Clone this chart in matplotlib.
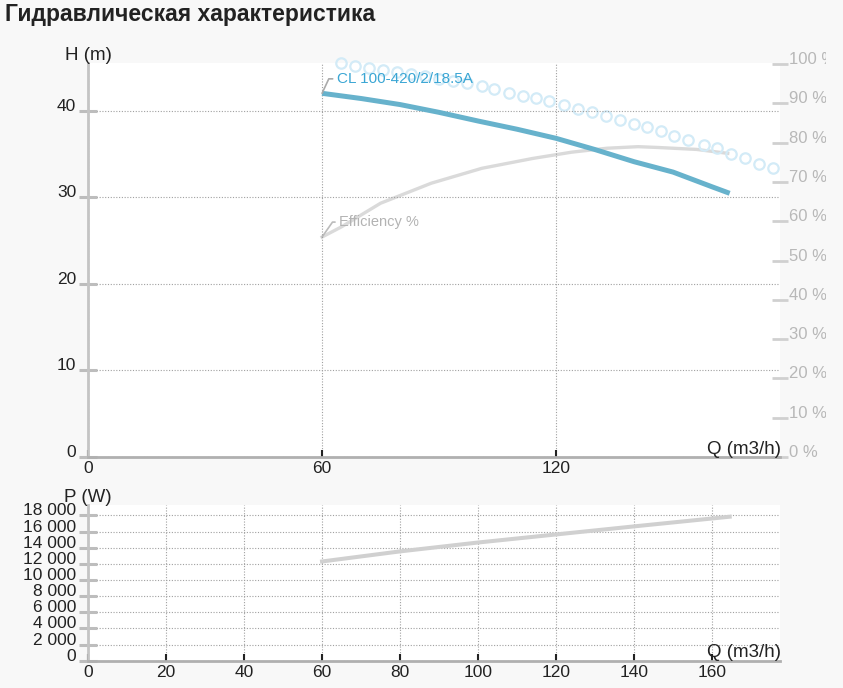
import matplotlib
matplotlib.use("Agg")
import matplotlib.pyplot as plt
from matplotlib.ticker import FuncFormatter
from matplotlib.transforms import Bbox

plt.rcParams["font.family"] = ["Liberation Sans", "DejaVu Sans"]

TITLE = "Гидравлическая характеристика"
PUMP = "CL 100-420/2/18.5A"

# head curve, H (m) vs Q (m3/h)
Q_H = [60, 70, 80, 90, 100, 110, 120, 130, 140, 150, 160, 164.5]
H = [42.0, 41.4, 40.7, 39.8, 38.8, 37.85, 36.8, 35.5, 34.1, 32.9, 31.2, 30.45]

# efficiency, %
Q_EFF = [60, 65, 75, 88, 101, 114, 124, 133, 141, 146, 156, 164]
EFF = [56.0, 58.6, 64.6, 69.7, 73.5, 76.0, 77.6, 78.6, 79.0, 78.8, 78.3, 77.3]

# open circle series (right axis, %)
Q_DOTS = [64.8, 68.5, 72.1, 75.7, 79.1, 82.7, 86.3, 90.0, 93.6, 97.2, 100.9,
          104.2, 107.8, 111.4, 114.9, 118.3, 121.9, 125.5, 129.2, 132.8, 136.3,
          139.9, 143.3, 146.8, 150.3, 153.9, 157.8, 161.3, 164.8, 168.4, 171.9, 175.5]
DOTS = [100.4, 99.6, 99.1, 98.5, 98.0, 97.5, 97.0, 96.3, 95.8, 95.3, 94.5,
        93.6, 92.7, 92.0, 91.3, 90.6, 89.6, 88.6, 87.7, 86.8, 85.8,
        84.8, 83.9, 83.0, 81.7, 80.7, 79.4, 78.6, 77.2, 76.0, 74.7, 73.5]

# power, W
Q_P = [60, 80, 100, 120, 140, 164.5]
P = [12300, 13550, 14650, 15650, 16650, 17850]

H_TICKS = [0, 10, 20, 30, 40]
EFF_TICKS = list(range(0, 101, 10))
Q_TICKS_TOP = [0, 60, 120]
Q_TICKS_BOTTOM = list(range(0, 161, 20))
P_TICKS = list(range(0, 18001, 2000))

BG = "#f8f8f8"
W, HGT = 843, 688


def style_axes(axis):
	for side in ("top", "right"):
		axis.spines[side].set_visible(False)
	axis.spines["left"].set_color("#c4c4c4")
	axis.spines["left"].set_linewidth(2)
	axis.spines["bottom"].set_color("#b0b0b0")
	axis.spines["bottom"].set_linewidth(2)
	axis.tick_params(axis="y", direction="inout", length=13, width=2.2,
		color="#bdbdbd", labelsize=12.5, pad=2, labelcolor="#222222")
	axis.tick_params(axis="x", direction="in", length=5, width=1.5,
		color="#222222", labelsize=12.5, pad=3, labelcolor="#222222")
	axis.grid(True, linestyle=(0, (1, 1.5)), color="#a0a0a0", linewidth=0.8)
	axis.set_axisbelow(True)


fig = plt.figure(figsize=(W / 100, HGT / 100), dpi=100, facecolor=BG)

ax = fig.add_axes([88 / W, 1 - 457 / HGT, 692 / W, 394 / HGT])
ax2 = ax.twinx()
ax.set_zorder(ax2.get_zorder() + 1)
ax.patch.set_visible(False)
ax2.patch.set_visible(True)
ax2.set_facecolor("white")

ax.set_xlim(0, 177.4)
ax.set_ylim(0, 45.5)
ax.set_xticks(Q_TICKS_TOP)
ax.set_yticks(H_TICKS)
style_axes(ax)

ax2.set_ylim(0, 100.3)
ax2.set_yticks(EFF_TICKS)
ax2.yaxis.set_major_formatter(FuncFormatter(lambda v, p: "%d %%" % v))
for s in ax2.spines.values():
	s.set_visible(False)
ax2.tick_params(axis="y", direction="inout", length=11, width=2,
	color="#d0d0d0", labelcolor="#b8b8b8", labelsize=12, pad=1)

ax.plot(Q_H, H, color="#67b2cc", linewidth=3.6, solid_capstyle="butt")
ax2.plot(Q_EFF, EFF, color="#dadada", linewidth=2.4)
ax2.plot(Q_DOTS, DOTS, "o", mfc="none", mec="#d3ebf7", ms=7.5, mew=1.6, clip_on=False)

ax.annotate(PUMP, xy=(Q_H[0], H[0]), xytext=(63.8, 43.67), color="#3aa6d4",
	fontsize=11, ha="left", va="center",
	arrowprops=dict(arrowstyle="-", color="#aaaaaa", lw=1.2, shrinkA=1, shrinkB=0,
		relpos=(0, 0.5), connectionstyle="angle,angleA=0,angleB=65,rad=0"))
ax2.annotate("Efficiency %", xy=(Q_EFF[0], EFF[0]), xytext=(64.4, 59.8), color="#b3b3b3",
	fontsize=10.5, ha="left", va="center",
	arrowprops=dict(arrowstyle="-", color="#bbbbbb", lw=1.2, shrinkA=1, shrinkB=0,
		relpos=(0, 0.5), connectionstyle="angle,angleA=0,angleB=55,rad=0"))

axp = fig.add_axes([88 / W, 1 - 660.7 / HGT, 692 / W, 155.7 / HGT])
axp.set_facecolor("white")
axp.set_xlim(0, 177.4)
axp.set_ylim(0, 19300)
axp.set_xticks(Q_TICKS_BOTTOM)
axp.set_yticks(P_TICKS)
axp.yaxis.set_major_formatter(FuncFormatter(lambda v, p: "{:,}".format(int(v)).replace(",", " ")))
style_axes(axp)
axp.plot(Q_P, P, color="#d0d0d0", linewidth=2.9)

for axis in (ax, ax2, axp):
	for t in axis.yaxis.get_major_ticks():
		t.label1.set_va("baseline")
		t.label2.set_va("baseline")

# right labels are cut off at the edge of the chart container
clip = Bbox([[0, 0], [826, HGT]])
for t in ax2.yaxis.get_major_ticks():
	t.label2.set_clip_box(clip)
	t.label2.set_clip_on(True)

fig.text(5 / W, 1 - 15 / HGT, TITLE, fontsize=16.5, fontweight="bold", color="#222222", va="center")
fig.text(65 / W, 1 - 55 / HGT, "H (m)", fontsize=13.5, color="#222222", va="center")
fig.text(781 / W, 1 - 449 / HGT, "Q (m3/h)", fontsize=13.5, color="#222222", va="center", ha="right")
fig.text(64 / W, 1 - 498 / HGT, "P (W)", fontsize=13.5, color="#222222", va="center")
fig.text(781 / W, 1 - 652.7 / HGT, "Q (m3/h)", fontsize=13.5, color="#222222", va="center", ha="right")

plt.savefig("out.png", dpi=100, facecolor=BG)
